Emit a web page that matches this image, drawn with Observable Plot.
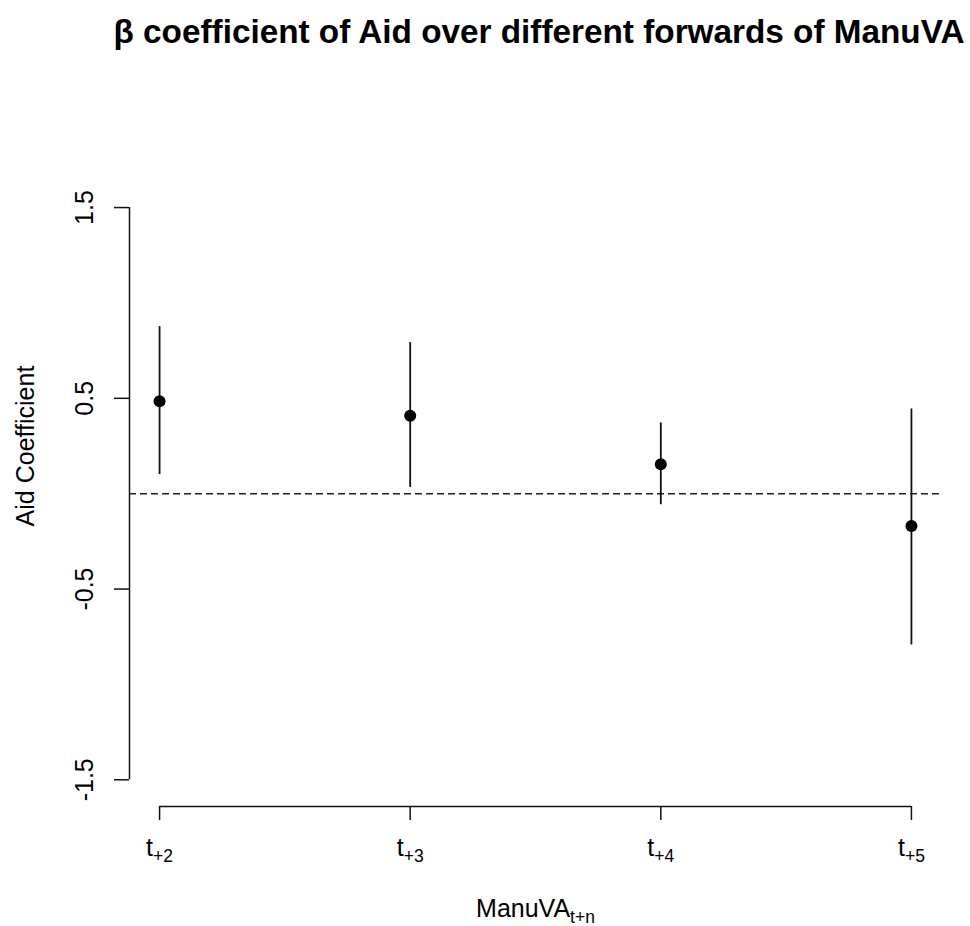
<!DOCTYPE html>
<html><head><meta charset="utf-8">
<script src="https://cdn.jsdelivr.net/npm/d3@7"></script>
<script src="https://cdn.jsdelivr.net/npm/@observablehq/plot@0.6"></script>
<style>
body{margin:0;background:#fff;}
#wrap{position:relative;width:970px;height:926px;font-family:"Liberation Sans",Arial,sans-serif;background:#fff;}
#title{position:absolute;left:0;top:15px;width:970px;box-sizing:border-box;padding-left:108px;text-align:center;font-weight:bold;font-size:33.3px;line-height:34px;white-space:nowrap;color:#000;}
#chart{position:absolute;left:0;top:62px;}
</style></head><body>
<div id="wrap"><div id="title">β coefficient of Aid over different forwards of ManuVA</div><div id="chart"></div></div>
<script>
// Forward horizons (ManuVA t+n) and estimated Aid coefficients with interval bounds
const leads = [2, 3, 4, 5];
const estimate = [0.484, 0.409, 0.154, -0.169];
const lower = [0.100, 0.033, -0.058, -0.793];
const upper = [0.876, 0.792, 0.371, 0.444];
const yTicks = [-1.5, -0.5, 0.5, 1.5];
const xDomain = [1.88, 5.12];
const yDomain = [-1.64, 2.14];

const rows = leads.map((n, i) => ({lead: n, est: estimate[i], lo: lower[i], hi: upper[i]}));

const plot = Plot.plot({
  width: 970, height: 864,
  marginTop: 23, marginBottom: 120, marginLeft: 129, marginRight: 29,
  style: {fontFamily: "Liberation Sans, Arial, sans-serif", fontSize: "25px", color: "#000", background: "#fff"},
  x: {domain: xDomain},
  y: {domain: yDomain},
  marks: [
    Plot.ruleY([0], {stroke: "#222", strokeWidth: 1.6, strokeDasharray: "7,4"}),
    Plot.ruleX(rows, {x: "lead", y1: "lo", y2: "hi", stroke: "#111", strokeWidth: 1.8}),
    Plot.dot(rows, {x: "lead", y: "est", r: 6, fill: "#000", stroke: "none"}),
    Plot.ruleY([yDomain[0]], {x1: d3.min(leads), x2: d3.max(leads), stroke: "#111", strokeWidth: 1.5}),
    Plot.ruleX([xDomain[0]], {y1: d3.min(yTicks), y2: d3.max(yTicks), stroke: "#111", strokeWidth: 1.5}),
    Plot.axisX({ticks: leads, tickSize: 14, tickPadding: 18, tickFormat: n => "t+" + n,
      label: "ManuVA", labelAnchor: "center", labelArrow: "none", labelOffset: 110,
      fontSize: 25, strokeWidth: 1.5, stroke: "#111"}),
    Plot.axisY({ticks: yTicks, tickSize: 15, tickPadding: 22, tickRotate: -90, tickFormat: d => String(d),
      label: "Aid Coefficient", labelAnchor: "center", labelArrow: "none", labelOffset: 113,
      fontSize: 25, strokeWidth: 1.5, stroke: "#111"})
  ]
});
document.getElementById("chart").appendChild(plot);

// subscripts like R plotmath: t[+n]
const svgNS = "http://www.w3.org/2000/svg";
function addSub(textEl, base, sub) {
  textEl.textContent = "";
  const t1 = document.createElementNS(svgNS, "tspan");
  t1.textContent = base;
  const t2 = document.createElementNS(svgNS, "tspan");
  t2.setAttribute("font-size", "0.7em");
  t2.setAttribute("dy", "0.35em");
  t2.textContent = sub;
  textEl.appendChild(t1);
  textEl.appendChild(t2);
}
plot.querySelectorAll('g[aria-label="x-axis tick label"] text').forEach(el => {
  const s = el.textContent;
  addSub(el, "t", s.slice(1));
});
plot.querySelectorAll('g[aria-label="x-axis label"] text').forEach(el => {
  addSub(el, el.textContent, "t+n");
});
</script>
</body></html>
